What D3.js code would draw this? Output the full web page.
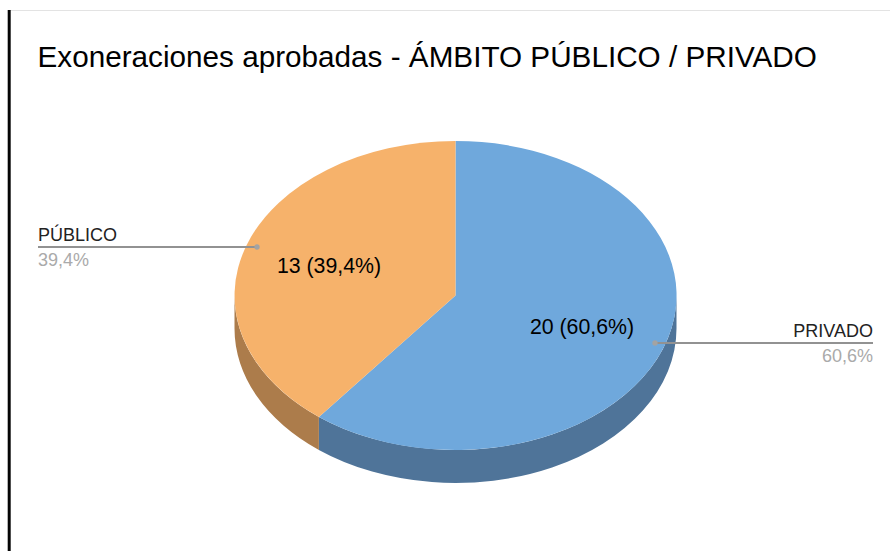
<!DOCTYPE html>
<html><head><meta charset="utf-8">
<script src="https://cdn.jsdelivr.net/npm/d3@7"></script>
<style>html,body{margin:0;padding:0;background:#fff}svg{display:block}text{font-family:"Liberation Sans",Arial,sans-serif}</style>
</head><body><svg id="c" width="890" height="551"></svg>
<script>
const titleText = "Exoneraciones aprobadas - ÁMBITO PÚBLICO / PRIVADO";
const categories = ["PRIVADO", "PÚBLICO"];
const values = [20, 13];
const percentLabels = ["60,6%", "39,4%"];
const sliceLabels = ["20 (60,6%)", "13 (39,4%)"];
const topColors = ["#6fa8dc", "#f6b26b"];
const sideColors = ["#4f7499", "#ac7c4b"];

const cx = 455.5, cy = 295.5, rx = 221, ry = 154.5, depth = 33;
const svg = d3.select("#c");

svg.append("line").attr("x1",10).attr("x2",890).attr("y1",10.5).attr("y2",10.5).attr("stroke","#e3e3e3").attr("stroke-width",1);
svg.append("line").attr("x1",9.2).attr("x2",9.2).attr("y1",10).attr("y2",551).attr("stroke","#050505").attr("stroke-width",3);

svg.append("text").attr("x",37.5).attr("y",67).attr("font-size",29.7).attr("fill","#000").text(titleText);

const arcs = d3.pie().value(d=>d).sort(null)(values);
const px = a => rx*Math.sin(a), py = a => -ry*Math.cos(a);

// side wall: visible part of each slice, lower half of the ellipse
const sideGroup = svg.append("g").attr("transform",`translate(${cx},${cy})`);
arcs.forEach((a,i)=>{
  const s = Math.max(a.startAngle, Math.PI/2), e = Math.min(a.endAngle, 3*Math.PI/2);
  if (e <= s) return;
  const d = `M${px(s)},${py(s)} A${rx},${ry} 0 0 1 ${px(e)},${py(e)} L${px(e)},${py(e)+depth} A${rx},${ry} 0 0 0 ${px(s)},${py(s)+depth} Z`;
  sideGroup.append("path").attr("d",d).attr("fill",sideColors[i]);
});

// top face: unit d3.arc scaled to the ellipse
const arc = d3.arc().innerRadius(0).outerRadius(1);
const topGroup = svg.append("g").attr("transform",`translate(${cx},${cy}) scale(${rx},${ry})`);
topGroup.selectAll("path").data(arcs).join("path").attr("d",arc).attr("fill",(d,i)=>topColors[i]);

// in-slice labels
const inside = [[582,334],[329,272.5]];
sliceLabels.forEach((t,i)=>{
  svg.append("text").attr("x",inside[i][0]).attr("y",inside[i][1]).attr("text-anchor","middle")
    .attr("font-size",21.3).attr("fill","#000").text(t);
});

// leaders
const leaders = [
 {x1:655,x2:873,y:343,tx:873,anchor:"end"},
 {x1:257,x2:38,y:247,tx:38,anchor:"start"}
];
leaders.forEach((l,i)=>{
  svg.append("line").attr("x1",l.x1).attr("x2",l.x2).attr("y1",l.y).attr("y2",l.y).attr("stroke","#929292").attr("stroke-width",1.8);
  svg.append("circle").attr("cx",l.x1).attr("cy",l.y).attr("r",2.7).attr("fill","#a3a3a3");
  svg.append("text").attr("x",l.tx).attr("y",l.y-6.5).attr("text-anchor",l.anchor).attr("font-size",18).attr("fill","#222").text(categories[i]);
  svg.append("text").attr("x",l.tx).attr("y",l.y+19).attr("text-anchor",l.anchor).attr("font-size",18).attr("fill","#aaa").text(percentLabels[i]);
});
</script></body></html>
